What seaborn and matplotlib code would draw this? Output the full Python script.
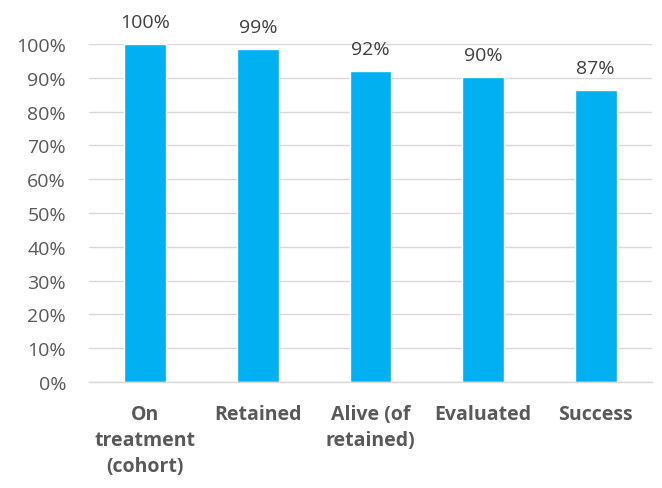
import matplotlib
matplotlib.use("Agg")
import matplotlib.pyplot as plt
import seaborn as sns
import pandas as pd
from matplotlib.ticker import PercentFormatter

categories = ["On\ntreatment\n(cohort)", "Retained", "Alive (of\nretained)", "Evaluated", "Success"]
values = [1.00, 0.985, 0.92, 0.902, 0.864]
labels = ["100%", "99%", "92%", "90%", "87%"]
yticks = [0, 0.1, 0.2, 0.3, 0.4, 0.5, 0.6, 0.7, 0.8, 0.9, 1.0]

df = pd.DataFrame({"cat": categories, "val": values})

sns.set_theme(style="white")
plt.rcParams['font.family'] = ['Open Sans', 'DejaVu Sans']

fig = plt.figure(figsize=(6.62, 4.89), dpi=100)
ax = fig.add_axes([89/662, 1 - 383/489, (652-89)/662, (383-45)/489])

sns.barplot(data=df, x="cat", y="val", color="#00B0F0", width=0.37,
            saturation=1, ax=ax, zorder=3)

ax.set_ylim(0, 1.0)
ax.set_xlim(-0.5, len(categories) - 0.5)
ax.set_yticks(yticks)
ax.yaxis.set_major_formatter(PercentFormatter(1.0, decimals=0))
ax.grid(axis="y", color="#D9D9D9", linewidth=1, zorder=0)
ax.set_axisbelow(True)
for s in ["top", "right", "left"]:
    ax.spines[s].set_visible(False)
ax.spines["bottom"].set_color("#D9D9D9")
ax.spines["bottom"].set_linewidth(1)
ax.spines["bottom"].set_zorder(4)
ax.set_xlabel("")
ax.set_ylabel("")
ax.tick_params(axis="y", length=0, pad=16.5, labelsize=14, labelcolor="#595959")
ax.tick_params(axis="x", length=0, pad=15.5, labelsize=14, labelcolor="#595959")
for t in ax.get_xticklabels():
    t.set_fontweight("bold")
    t.set_linespacing(1.42)
    t.set_verticalalignment("top")

for bar, lab in zip(ax.patches, labels):
    ax.annotate(lab, (bar.get_x() + bar.get_width() / 2, bar.get_height()),
                xytext=(0, 9.5), textcoords="offset points", ha="center", va="bottom",
                fontsize=14, color="#404040", annotation_clip=False)

fig.savefig("out.png", dpi=100)
